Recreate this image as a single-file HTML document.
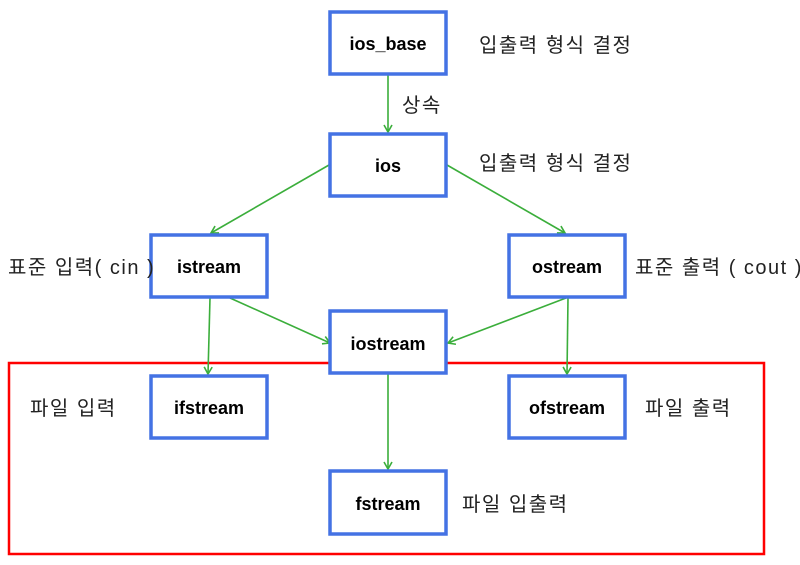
<!DOCTYPE html>
<html><head><meta charset="utf-8"><style>
html,body{margin:0;padding:0;background:#fff;width:800px;height:565px;overflow:hidden}
svg{display:block}
.b{fill:#fff;stroke:#4472e4;stroke-width:3.5}
.t{font-family:"Liberation Sans","Noto Sans CJK KR",sans-serif;font-weight:bold;font-size:18px;fill:#000;text-anchor:middle}
.k{font-family:"Liberation Sans","Noto Sans CJK KR",sans-serif;font-size:20px;letter-spacing:1.5px;fill:#222}
.l{stroke:#3bae3b;stroke-width:1.6;fill:none}
</style></head><body>
<svg width="800" height="565" viewBox="0 0 800 565">
<defs><marker id="a" markerWidth="10" markerHeight="10" refX="8" refY="5" orient="auto" markerUnits="userSpaceOnUse"><path d="M1,1 L8,5 L1,9" fill="none" stroke="#3bae3b" stroke-width="1.6"/></marker></defs>
<rect x="9" y="363" width="755" height="191" fill="none" stroke="#f00" stroke-width="2.5"/>
<line class="l" x1="388" y1="75" x2="388" y2="132" marker-end="url(#a)"/>
<line class="l" x1="329" y1="165" x2="211" y2="233" marker-end="url(#a)"/>
<line class="l" x1="447" y1="165" x2="565" y2="233" marker-end="url(#a)"/>
<line class="l" x1="230" y1="298" x2="330" y2="343" marker-end="url(#a)"/>
<line class="l" x1="566" y1="298" x2="448" y2="343" marker-end="url(#a)"/>
<line class="l" x1="210" y1="298" x2="208" y2="374" marker-end="url(#a)"/>
<line class="l" x1="568" y1="298" x2="567" y2="374" marker-end="url(#a)"/>
<line class="l" x1="388" y1="374" x2="388" y2="469" marker-end="url(#a)"/>
<rect class="b" x="330" y="12" width="116" height="62"/><text class="t" x="388" y="50">ios_base</text>
<rect class="b" x="330" y="134" width="116" height="62"/><text class="t" x="388" y="172">ios</text>
<rect class="b" x="151" y="235" width="116" height="62"/><text class="t" x="209" y="273">istream</text>
<rect class="b" x="509" y="235" width="116" height="62"/><text class="t" x="567" y="273">ostream</text>
<rect class="b" x="330" y="311" width="116" height="62"/><text class="t" x="388" y="350">iostream</text>
<rect class="b" x="151" y="376" width="116" height="62"/><text class="t" x="209" y="414">ifstream</text>
<rect class="b" x="509" y="376" width="116" height="62"/><text class="t" x="567" y="414">ofstream</text>
<rect class="b" x="330" y="471" width="116" height="63"/><text class="t" x="388" y="510">fstream</text>
<text class="k" x="479" y="52">입출력 형식 결정</text>
<text class="k" x="402" y="112">상속</text>
<text class="k" x="479" y="170">입출력 형식 결정</text>
<text class="k" x="8" y="274">표준 입력( cin )</text>
<text class="k" x="635" y="274">표준 출력 ( cout )</text>
<text class="k" x="30" y="415">파일 입력</text>
<text class="k" x="645" y="415">파일 출력</text>
<text class="k" x="462" y="511">파일 입출력</text>
</svg>
</body></html>
